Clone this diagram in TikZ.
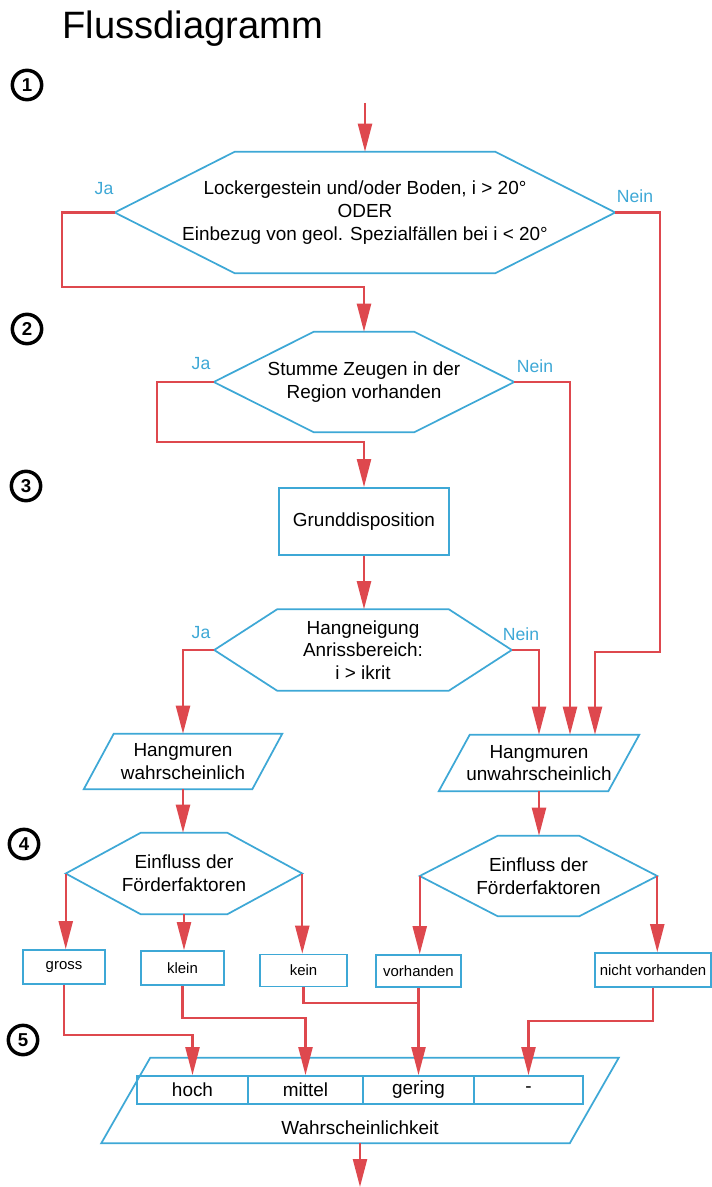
\documentclass[tikz,border=0pt]{standalone}
\usepackage{fontspec}
\setmainfont{Liberation Sans}
\usetikzlibrary{arrows.meta,calc}
\definecolor{lred}{RGB}{222,72,78}
\definecolor{lblue}{RGB}{62,168,214}
\newcommand{\pw}[1]{#1*0.75pt}
\newcommand{\hexdraw}[2]{\draw[shp] (#1.west) -- ($(#1.north west)+(#2,0)$) -- ($(#1.north east)+(-#2,0)$) -- (#1.east) -- ($(#1.south east)+(-#2,0)$) -- ($(#1.south west)+(#2,0)$) -- cycle;}
\newcommand{\paradraw}[2]{\draw[shp] ($(#1.north west)+(#2,0)$) -- ($(#1.north east)+(#2,0)$) -- ($(#1.south east)+(-#2,0)$) -- ($(#1.south west)+(-#2,0)$) -- cycle;}
\tikzset{
 conn/.style={draw=lred, line width=1.7pt, -{Triangle[length=21pt,width=10.5pt]}},
 rline/.style={draw=lred, line width=1.7pt},
 shp/.style={draw=lblue, line width=1.3pt},
 txt/.style={font=\fontsize{14.2}{17}\selectfont, align=center, text=black},
 ghost/.style={draw=none, inner sep=0pt, txt},
 box/.style={draw=lblue, line width=1.3pt, inner sep=0pt, txt},
 sbox/.style={box, font=\fontsize{11.2}{13}\selectfont},
 lab/.style={text=lblue, font=\fontsize{13.2}{15}\selectfont},
 num/.style={circle, draw=black, line width=2.6pt, minimum size=22pt, inner sep=0pt, font=\bfseries\fontsize{14}{14}\selectfont},
}
\begin{document}
\begin{tikzpicture}[x=0.75pt,y=-0.75pt]
\useasboundingbox[fill=white] (0,0) rectangle (712,1187);
\node[anchor=base west, inner sep=0pt, font=\fontsize{28.6}{30}\selectfont] (title) at (62,39) {Flussdiagramm};
\node[num] (n1) at (27,85) {1};
\node[num] (n2) at (27,329) {2};
\node[num] (n3) at (26,486) {3};
\node[num] (n4) at (24,844) {4};
\node[num] (n5) at (23,1040) {5};
% shapes
\node[ghost, minimum width=\pw{500}, minimum height=\pw{121}] (h1) at (365,212.5) {Lockergestein und/oder Boden, i > 20°\\ODER\\Einbezug von geol. Spezialfällen bei i < 20°};
\hexdraw{h1}{120}
\node[ghost, minimum width=\pw{300}, minimum height=\pw{100}] (h2) at (364,382) {Stumme Zeugen in der\\Region vorhanden};
\hexdraw{h2}{100}
\node[box, minimum width=\pw{170}, minimum height=\pw{67}] (gd) at (364,521.5) {Grunddisposition};
\node[ghost, minimum width=\pw{297}, minimum height=\pw{81}] (h3) at (363,650) {Hangneigung\\Anrissbereich:\\i > ikrit};
\hexdraw{h3}{63}
\node[ghost, minimum width=\pw{168}, minimum height=\pw{55}] (pL) at (183,761.5) {Hangmuren\\wahrscheinlich};
\paradraw{pL}{15}
\node[ghost, minimum width=\pw{169}, minimum height=\pw{56}] (pR) at (539,763) {Hangmuren\\unwahrscheinlich};
\paradraw{pR}{15.5}
\node[ghost, minimum width=\pw{236}, minimum height=\pw{81}] (h4L) at (184,873.5) {Einfluss der\\Förderfaktoren};
\hexdraw{h4L}{75}
\node[ghost, minimum width=\pw{237}, minimum height=\pw{80}] (h4R) at (538.5,876) {Einfluss der\\Förderfaktoren};
\hexdraw{h4R}{78}
\node[sbox, minimum width=\pw{82}, minimum height=\pw{34}] (gross) at (64,967) {gross};
\node[sbox, minimum width=\pw{83}, minimum height=\pw{34}] (klein) at (182.5,968) {klein};
\node[sbox, minimum width=\pw{87}, minimum height=\pw{32}] (kein) at (303.5,970.5) {kein};
\node[sbox, minimum width=\pw{85}, minimum height=\pw{32}] (vorh) at (418.5,971) {vorhanden};
\node[sbox, minimum width=\pw{116}, minimum height=\pw{34}] (nvorh) at (653,970) {nicht vorhanden};
\node[ghost, minimum width=\pw{468}, minimum height=\pw{85}] (tab) at (360,1100.5) {};
\paradraw{tab}{24.5}
\node[box, minimum width=\pw{111}, minimum height=\pw{28}] (c1) at (192.5,1090) {hoch};
\node[box, minimum width=\pw{115}, minimum height=\pw{28}] (c2) at (305.5,1090) {mittel};
\node[box, minimum width=\pw{111}, minimum height=\pw{28}] (c3) at (418.5,1090) {gering};
\node[box, minimum width=\pw{109}, minimum height=\pw{28}] (c4) at (528.5,1090) {-};
\node[txt] (wt) at (360,1128) {Wahrscheinlichkeit};
% labels
\node[lab] (ja1) at (104,189) {Ja};
\node[lab] (ne1) at (635,196) {Nein};
\node[lab] (ja2) at (201,364) {Ja};
\node[lab] (ne2) at (535,366) {Nein};
\node[lab] (ja3) at (201,633) {Ja};
\node[lab] (ne3) at (521,634) {Nein};
% connectors
\coordinate (start) at (365,103);
\draw[conn] (start) -- (h1.north);
\coordinate (j1) at (62,287);
\draw[conn] (h1.west) -| (j1) -| (h2.north);
\coordinate (nn1) at (660,652);
\coordinate (pRa) at ($(pR.north)+(56,0)$);
\draw[conn] (h1.east) -| (nn1) -| (pRa);
\coordinate (j2) at (157,442);
\draw[conn] (h2.west) -| (j2) -| (gd.north);
\coordinate (pRb) at ($(pR.north)+(31,0)$);
\draw[conn] (h2.east) -| (pRb);
\draw[conn] (gd.south) -- (gd.south |- h3.north);
\draw[conn] (h3.west) -| (pL.north);
\draw[conn] (h3.east) -| (pR.north);
\draw[conn] (pL.south) -- (pL.south |- h4L.north);
\draw[conn] (pR.south) -- (pR.south |- h4R.north);
\draw[conn] (h4L.west) -- (h4L.west |- gross.north);
\draw[conn] (h4L.south) -- (h4L.south |- klein.north);
\draw[conn] (h4L.east) -- (h4L.east |- kein.north);
\draw[conn] (h4R.west) -- (h4R.west |- vorh.north);
\draw[conn] (h4R.east) -- (h4R.east |- nvorh.north);
\coordinate (g1) at (64,1035);
\draw[conn] (gross.south) -- (g1) -| (c1.north);
\coordinate (k1) at (182.5,1018);
\draw[conn] (klein.south) -- (k1) -| (c2.north);
\coordinate (ke1) at (303.5,1003);
\draw[rline] (kein.south) -- (ke1) -- (ke1 -| vorh.south);
\draw[conn] (vorh.south) -- (c3.north);
\coordinate (nv1) at (653,1021);
\draw[conn] (nvorh.south) -- (nv1) -| (c4.north);
\coordinate (endp) at (360,1187);
\draw[conn] (tab.south) -- (endp);
\end{tikzpicture}
\end{document}
